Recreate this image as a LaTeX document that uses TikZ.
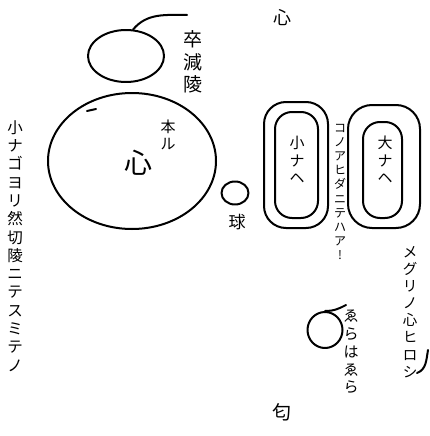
\documentclass[tikz,border=0pt]{standalone}
\usepackage{fontspec}
\newfontfamily\jp{Noto Sans CJK JP}
\usetikzlibrary{shapes.geometric, calc}

\begin{document}
\begin{tikzpicture}[x=1pt, y=-1pt,
    ink/.style={line width=2pt, line cap=round, line join=round},
    blob/.style={ellipse, draw, ink, inner sep=0pt},
    pill/.style={rectangle, draw, ink, inner sep=0pt},
    tate/.style={align=center, inner sep=0pt, font=\jp\fontsize{#1}{\dimexpr#1pt*118/100\relax}\selectfont},
    tate/.default=15
]
    \useasboundingbox (0,0) rectangle (429,436);

    \node[blob, minimum width=76, minimum height=52]  (kansei) at (126,56)  {};
    \node[blob, minimum width=168, minimum height=136] (honshin) at (132,161) {};
    \node[blob, minimum width=27, minimum height=23]  (tama)   at (235,193) {};
    \node[blob, minimum width=35, minimum height=36]  (maru)   at (325,330) {};

    \node[pill, rounded corners=22, minimum width=64, minimum height=126] (shoout) at (296,165) {};
    \node[pill, rounded corners=17, minimum width=43, minimum height=106] (shoin)  at (296.5,165) {};
    \node[pill, rounded corners=24, minimum width=72, minimum height=123] (daiout) at (384,166.5) {};
    \node[pill, rounded corners=17, minimum width=39, minimum height=96]  (daiin)  at (382.5,170) {};

    \node[tate=18] (kokoro)  at (282,18)  {心};
    \node[tate=19] (rikuon)  at (193,62)  {卒\\減\\陵};
    \node[tate=15] (honru)   at (168,135) {本\\ル};
    \node[tate=28] (shin)    at (138,163) {心};
    \node[tate=17] (tamalbl) at (237,222) {球};
    \node[tate=15] (shona)   at (297,160) {小\\ナ\\ヘ};
    \node[tate=15] (daina)   at (385,160) {大\\ナ\\ヘ};
    \node[tate=12] (aida)    at (340,192) {コ\\ノ\\ア\\ヒ\\ダ\\ニ\\テ\\ハ\\ア\\!};
    \node[tate=14.5] (meguri) at (410,312) {メ\\グ\\リ\\ノ\\心\\ヒ\\ロ\\シ};
    \node[tate=15.5] (hidari) at (15,246)  {小\\ナ\\ゴ\\ヨ\\リ\\然\\切\\陵\\ニ\\テ\\ス\\ミ\\テ\\ノ};
    \node[tate=15] (era)     at (351,352) {ゑ\\ら\\は\\ゑ\\ら};
    \node[tate=19] (nioi)    at (282,412) {匂};

    \coordinate (hook) at (187,15);
    \coordinate (tail) at (346,305);
    \draw[ink] (kansei.75) to[out=50, in=180] (hook);
    \draw[ink] (87,111) -- (96,109);
    \draw[ink] (maru.north) .. controls (335,311) and (340,308) .. (tail);
    \draw[ink] (428,350) to[out=260, in=20] (417,373);
\end{tikzpicture}
\end{document}
